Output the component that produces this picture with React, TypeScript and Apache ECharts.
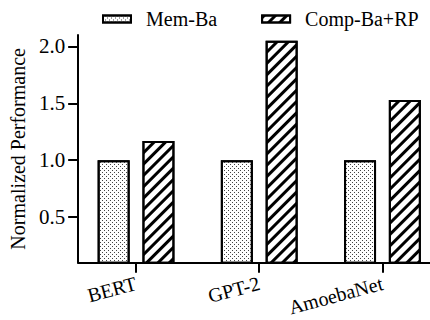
import React, { useEffect, useRef } from "react";
import * as echarts from "echarts";

const categories = ["BERT", "GPT-2", "AmoebaNet"];
const seriesNames = ["Mem-Ba", "Comp-Ba+RP"];
const memBa = [1.0, 1.0, 1.0];
const compBaRP = [1.17, 2.05, 1.53];
const yTicks = [0.5, 1.0, 1.5, 2.0];

const FONT = "Times New Roman, Liberation Serif, DejaVu Serif, serif";

export default function App() {
  const ref = useRef<HTMLDivElement>(null);
  useEffect(() => {
    if (!ref.current) return;
    const chart = echarts.init(ref.current, null, { renderer: "svg" });
    const idx = categories.map((_, i) => i);
    const dotsDecal = {
      symbol: "rect",
      symbolSize: 1,
      color: "#444",
      backgroundColor: "#fff",
      dashArrayX: [[1, 3], [0, 2, 1, 1]],
      dashArrayY: [1, 1],
      rotation: 0,
    };
    const hatchDecal = {
      symbol: "rect",
      symbolSize: 1,
      color: "#000",
      backgroundColor: "#fff",
      dashArrayX: [1, 0],
      dashArrayY: [3, 5],
      rotation: -Math.PI / 4,
    };
    chart.setOption({
      animation: false,
      aria: { enabled: true, decal: { show: true } },
      textStyle: { fontFamily: FONT, color: "#000" },
      legend: {
        left: 97,
        top: 4,
        itemWidth: 28,
        itemHeight: 7,
        itemGap: 44,
        icon: "rect",
        itemStyle: { borderColor: "#000", borderWidth: 2 },
        textStyle: { fontFamily: FONT, fontSize: 20, color: "#000", padding: [0, 0, 0, 10] },
        data: seriesNames,
      },
      grid: { left: 73, right: 0, top: 35, bottom: 57.3, containLabel: false },
      xAxis: {
        type: "value",
        min: -0.47,
        max: 2.386,
        axisLine: { show: true, onZero: false, lineStyle: { color: "#000", width: 2 } },
        axisTick: { show: true, customValues: idx, length: 10, inside: false, lineStyle: { color: "#000", width: 2 } },
        axisLabel: {
          customValues: idx,
          formatter: (v: number) => categories[Math.round(v)] ?? "",
          rotate: 15,
          margin: 20,
          fontFamily: FONT,
          fontSize: 20,
          color: "#000",
        },
        splitLine: { show: false },
      },
      yAxis: {
        type: "value",
        min: 0.1,
        max: 2.1,
        name: "Normalized Performance",
        nameLocation: "middle",
        nameGap: 45,
        nameRotate: 90,
        nameTextStyle: { fontFamily: FONT, fontSize: 20, color: "#000" },
        axisLine: { show: true, onZero: false, lineStyle: { color: "#000", width: 2 } },
        axisTick: { show: true, customValues: yTicks, length: 10, inside: false, lineStyle: { color: "#000", width: 2 } },
        axisLabel: {
          customValues: yTicks,
          formatter: (v: number) => v.toFixed(1),
          margin: 13,
          fontFamily: FONT,
          fontSize: 21,
          color: "#000",
        },
        splitLine: { show: false },
      },
      series: [
        {
          name: seriesNames[0],
          type: "bar",
          barWidth: 32,
          barGap: "40%",
          clip: true,
          data: memBa.map((v, i) => [i, v]),
          itemStyle: { color: "#fff", borderColor: "#000", borderWidth: 2, decal: dotsDecal },
        },
        {
          name: seriesNames[1],
          type: "bar",
          barWidth: 32,
          barGap: "40%",
          clip: true,
          data: compBaRP.map((v, i) => [i, v]),
          itemStyle: { color: "#fff", borderColor: "#000", borderWidth: 2, decal: hatchDecal },
        },
      ],
    });
    return () => chart.dispose();
  }, []);
  return (
    <div
      ref={ref}
      style={{ position: "absolute", left: 0, top: 0, width: 430, height: 320, background: "#fff" }}
    />
  );
}
